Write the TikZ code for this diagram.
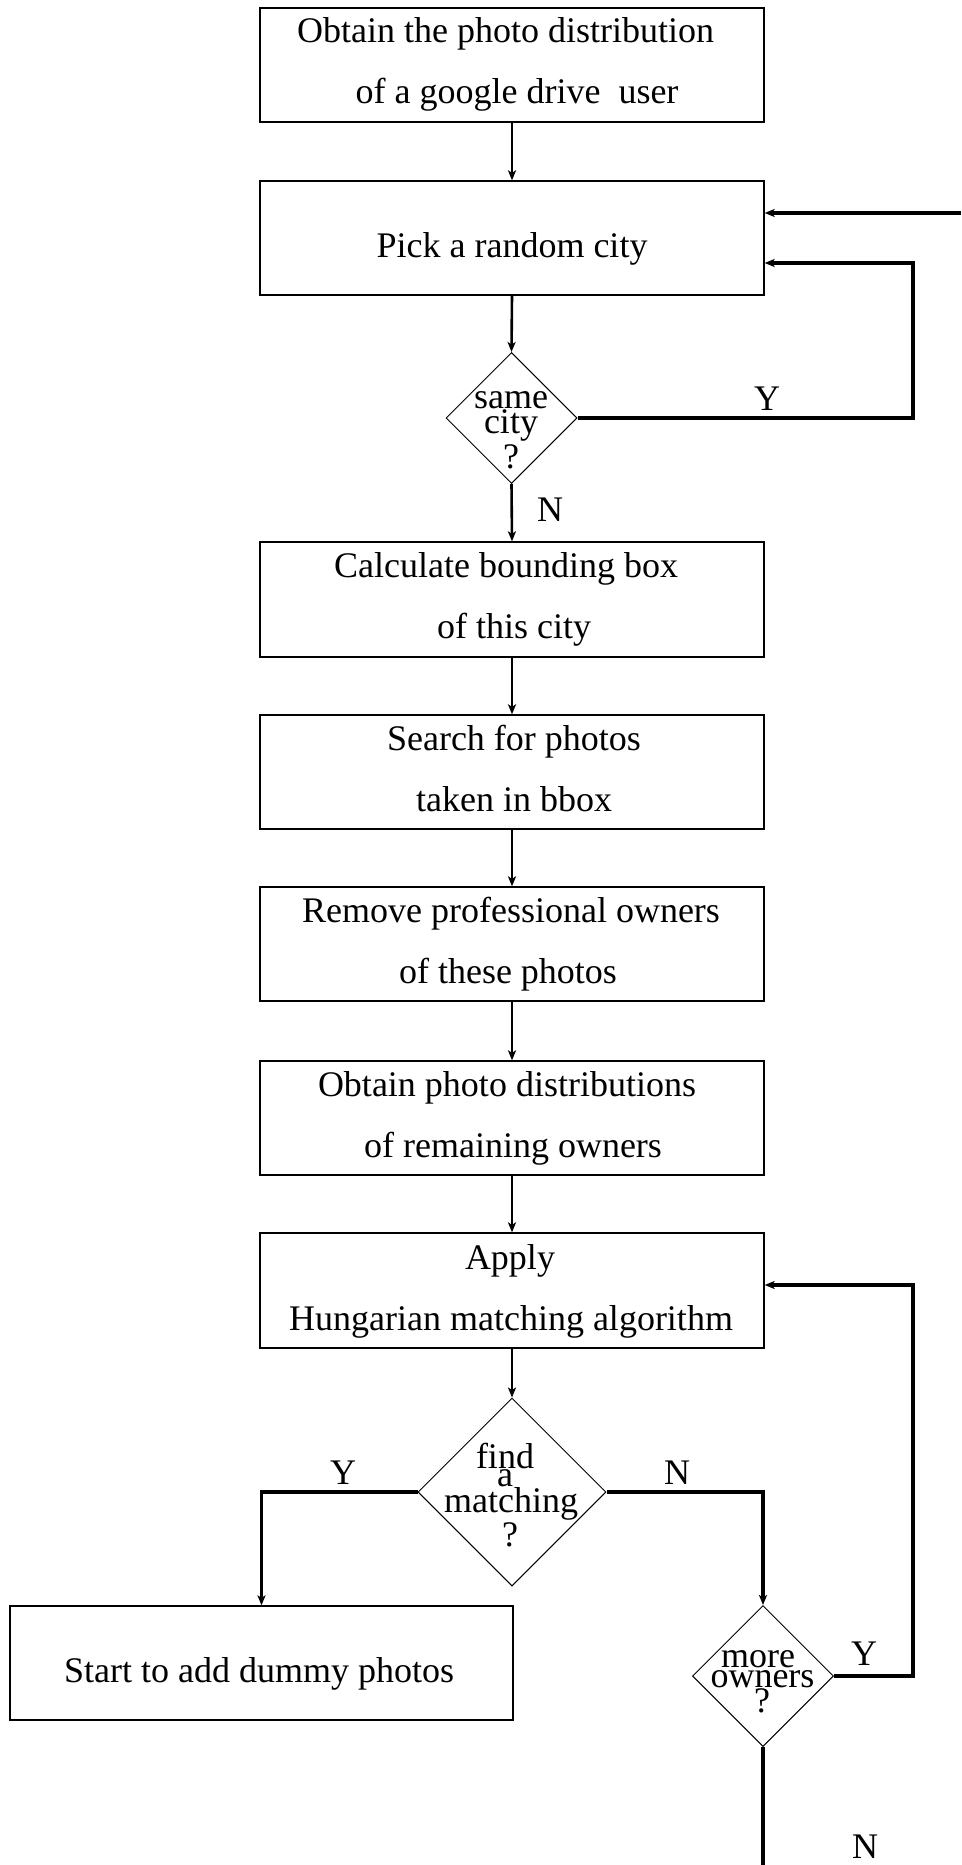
\documentclass[tikz,border=0pt]{standalone}
\usepackage{fontspec}
\setmainfont{Liberation Serif}
\usetikzlibrary{arrows.meta,shapes.geometric}
\begin{document}
\begin{tikzpicture}[x=1pt,y=-1pt,
  box/.style={draw, line width=1.3pt, minimum width=504pt, minimum height=114pt, inner sep=0pt},
  dia/.style={draw, diamond, line width=1pt, inner sep=0pt},
  txt/.style={anchor=base, inner sep=0pt, font=\fontsize{36}{43}\selectfont},
  flow/.style={line width=2.6pt, -{Stealth[length=10pt,width=8pt,inset=2.5pt]}},
  back/.style={line width=3.4pt, -{Stealth[length=10pt,width=8pt,inset=2.5pt]}},
  bare/.style={line width=3.4pt}
]
\useasboundingbox (0,0) rectangle (961,1865);

% process boxes
\node[box] (b1) at (512,65) {};
\node[box] (b2) at (512,238) {};
\node[box, minimum height=115pt] (b3) at (512,599.5) {};
\node[box] (b4) at (512,772) {};
\node[box] (b5) at (512,944) {};
\node[box] (b6) at (512,1118) {};
\node[box, minimum height=115pt] (b7) at (512,1290.5) {};
\node[box, minimum width=503pt] (b8) at (261.5,1663) {};

% decisions
\node[dia, minimum width=131pt, minimum height=131pt] (d1) at (511.5,418) {};
\node[dia, minimum width=188pt, minimum height=188pt] (d2) at (512,1492) {};
\node[dia, minimum width=141pt, minimum height=141pt] (d3) at (763,1676) {};

% box texts
\node[txt] (t1a) at (505.5,43) {Obtain the photo distribution};
\node[txt] (t1b) at (517,104) {of a google drive\ \ user};
\node[txt] (t2) at (512,257) {Pick a random city};
\node[txt] (t3a) at (506,577) {Calculate bounding box};
\node[txt] (t3b) at (514,638) {of this city};
\node[txt] (t4a) at (514,750) {Search for photos};
\node[txt] (t4b) at (514,811) {taken in bbox};
\node[txt] (t5a) at (511,922) {Remove professional owners};
\node[txt] (t5b) at (508,983) {of these photos};
\node[txt] (t6a) at (507,1096) {Obtain photo distributions};
\node[txt] (t6b) at (513,1157) {of remaining owners};
\node[txt] (t7a) at (510,1269) {Apply};
\node[txt] (t7b) at (511,1330) {Hungarian matching algorithm};
\node[txt] (t8) at (259,1682) {Start to add dummy photos};

% decision texts
\node[txt] (q1a) at (511,408) {same};
\node[txt] (q1b) at (511,433) {city};
\node[txt] (q1c) at (511,468) {?};
\node[txt] (q2a) at (505,1468) {find};
\node[txt] (q2b) at (505,1486) {a};
\node[txt] (q2c) at (511,1512) {matching};
\node[txt] (q2d) at (510,1546) {?};
\node[txt] (q3a) at (758,1667) {more};
\node[txt] (q3b) at (762.5,1687) {owners};
\node[txt] (q3c) at (762,1712) {?};

% branch labels
\node[txt] (y1) at (767,410) {Y};
\node[txt] (n1) at (550,521) {N};
\node[txt] (y2) at (343,1484) {Y};
\node[txt] (n2) at (677,1484) {N};
\node[txt] (y3) at (864,1665) {Y};
\node[txt] (n3) at (865,1858) {N};

% helper points for the loops
\coordinate (r1) at (913,263);
\coordinate (r2) at (913,1285);
\coordinate (redge) at (961,213);
\coordinate (bot) at (763,1865);

% main flow
\draw[flow] (b1.south) -- (b2.north);
\draw[flow] (b2.south) -- (d1.north);
\draw[flow] (d1.south) -- (b3.north);
\draw[flow] (b3.south) -- (b4.north);
\draw[flow] (b4.south) -- (b5.north);
\draw[flow] (b5.south) -- (b6.north);
\draw[flow] (b6.south) -- (b7.north);
\draw[flow] (b7.south) -- (d2.north);

% branches and loops
\draw[back] (d1.east) -| (r1) -- (b2.east |- r1);
\draw[back] (redge) -- (b2.east |- redge);
\draw[back] (d2.west) -| (b8.north);
\draw[back] (d2.east) -| (d3.north);
\draw[back] (d3.east) -| (r2) -- (b7.east |- r2);
\draw[bare] (d3.south) -- (bot);
\end{tikzpicture}
\end{document}
